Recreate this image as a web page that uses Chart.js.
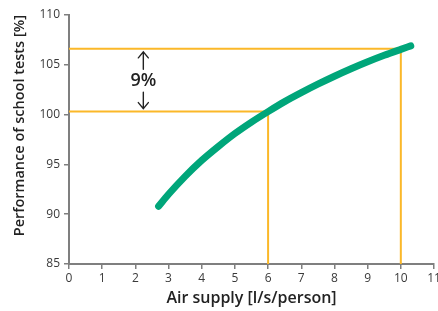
<!DOCTYPE html>
<html lang="en">
<head>
    <meta charset="UTF-8">
    <title>Air supply vs school performance</title>
    <script src="https://cdn.jsdelivr.net/npm/chart.js"></script>
    <style>
        html, body { margin: 0; padding: 0; background: #fff; }
        #wrap { width: 438px; height: 311px; position: relative; }
    </style>
</head>
<body>
<div id="wrap">
    <canvas id="grafico"></canvas>
</div>
<script>

// curve
const airSupply = [2.7, 3, 3.5, 4, 4.5, 5, 5.5, 6, 6.5, 7, 7.5, 8, 8.5, 9, 9.5, 10, 10.3];
const performance = [90.8, 92.0, 93.8, 95.4, 96.8, 98.1, 99.25, 100.3, 101.3, 102.2, 103.05, 103.85, 104.6, 105.3, 105.95, 106.55, 106.9];

// orange guide lines (x then y)
const lowGuideX = [0, 6, 6];
const lowGuideY = [100.3, 100.3, 85];
const highGuideX = [0, 10, 10];
const highGuideY = [106.6, 106.6, 85];

// axis ticks
const xTicks = [0, 1, 2, 3, 4, 5, 6, 7, 8, 9, 10, 11];
const yTicks = [85, 90, 95, 100, 105, 110];

// arrow label
const gapLabel = '9%';
const gapArrowX = 2.24;

const green = '#00a67a';
const orange = '#fbb829';
const axisGray = '#7f7f7f';

function toPoints(xs, ys) {
    return xs.map(function (v, i) { return { x: v, y: ys[i] }; });
}

const arrowPlugin = {
    id: 'gapArrow',
    afterDatasetsDraw(chart) {
        const ctx = chart.ctx;
        const x = chart.scales.x;
        const y = chart.scales.y;
        const ax = x.getPixelForValue(gapArrowX);
        const yTop = y.getPixelForValue(highGuideY[0]);
        const yBot = y.getPixelForValue(lowGuideY[0]);
        const mid = (yTop + yBot) / 2;

        ctx.save();
        ctx.strokeStyle = '#222';
        ctx.lineWidth = 1.4;
        ctx.lineCap = 'round';
        ctx.beginPath();
        // upper arrow
        ctx.moveTo(ax, yTop + 3);
        ctx.lineTo(ax, mid - 11);
        ctx.moveTo(ax - 5, yTop + 9);
        ctx.lineTo(ax, yTop + 3);
        ctx.lineTo(ax + 5, yTop + 9);
        // lower arrow
        ctx.moveTo(ax, yBot - 3);
        ctx.lineTo(ax, mid + 12);
        ctx.moveTo(ax - 5, yBot - 9);
        ctx.lineTo(ax, yBot - 3);
        ctx.lineTo(ax + 5, yBot - 9);
        ctx.stroke();

        ctx.fillStyle = '#222';
        ctx.font = '600 18px "Open Sans"';
        ctx.textAlign = 'center';
        ctx.textBaseline = 'middle';
        ctx.fillText(gapLabel, ax, mid + 1);
        ctx.restore();
    }
};

const config = {
    type: 'line',
    data: {
        datasets: [
            {
                label: 'Performance',
                data: toPoints(airSupply, performance),
                borderColor: green,
                borderWidth: 7,
                borderCapStyle: 'round',
                borderJoinStyle: 'round',
                cubicInterpolationMode: 'monotone',
                pointRadius: 0,
                fill: false
            },
            {
                label: 'low',
                data: toPoints(lowGuideX, lowGuideY),
                borderColor: orange,
                borderWidth: 2,
                pointRadius: 0,
                tension: 0,
                fill: false
            },
            {
                label: 'high',
                data: toPoints(highGuideX, highGuideY),
                borderColor: orange,
                borderWidth: 2,
                pointRadius: 0,
                tension: 0,
                fill: false
            }
        ]
    },
    options: {
        responsive: true,
        maintainAspectRatio: false,
        animation: false,
        layout: { padding: { left: 0, right: 4, top: 15, bottom: 0 } },
        plugins: {
            legend: { display: false },
            tooltip: { enabled: false }
        },
        scales: {
            x: {
                type: 'linear',
                min: 0,
                max: 11,
                afterBuildTicks: function (scale) {
                    scale.ticks = xTicks.map(function (v) { return { value: v }; });
                },
                afterFit: function (scale) {
                    scale.height = 47;
                    scale.paddingRight = 0;
                    scale.paddingLeft = 0;
                },
                grid: {
                    display: true,
                    drawOnChartArea: false,
                    drawTicks: true,
                    tickLength: 5,
                    color: axisGray,
                    lineWidth: 1.5
                },
                border: { display: true, color: axisGray, width: 2 },
                ticks: {
                    color: '#3a3a3a',
                    padding: 2,
                    maxRotation: 0,
                    autoSkip: false,
                    font: { family: 'Open Sans', size: 12 }
                },
                title: {
                    display: true,
                    text: 'Air supply [l/s/person]',
                    color: '#222',
                    padding: { top: 0, bottom: 3 },
                    font: { family: 'Open Sans', size: 16, weight: '600' }
                }
            },
            y: {
                type: 'linear',
                min: 85,
                max: 110,
                afterBuildTicks: function (scale) {
                    scale.ticks = yTicks.map(function (v) { return { value: v }; });
                },
                afterFit: function (scale) {
                    scale.width = 69;
                },
                grid: {
                    display: true,
                    drawOnChartArea: false,
                    drawTicks: true,
                    tickLength: 5,
                    color: axisGray,
                    lineWidth: 1.5
                },
                border: { display: true, color: axisGray, width: 2 },
                ticks: {
                    color: '#3a3a3a',
                    padding: 4,
                    autoSkip: false,
                    font: { family: 'Open Sans', size: 12 }
                },
                title: {
                    display: true,
                    text: 'Performance of school tests [%]',
                    color: '#222',
                    align: 'end',
                    padding: { top: 11, bottom: 0 },
                    font: { family: 'Open Sans', size: 14.5, weight: '600' }
                }
            }
        }
    },
    plugins: [arrowPlugin]
};

const grafico = new Chart(document.getElementById('grafico'), config);

</script>
</body>
</html>
